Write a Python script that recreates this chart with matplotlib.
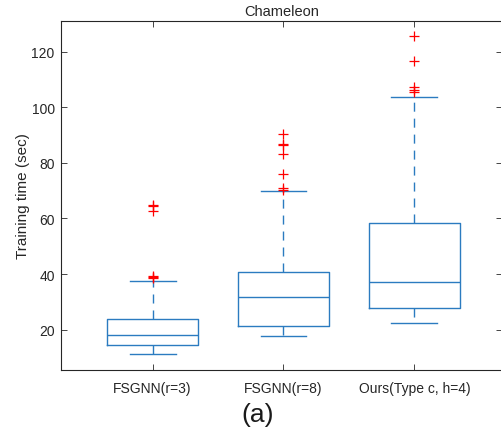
import matplotlib
matplotlib.use('Agg')
import matplotlib.pyplot as plt

plt.rcParams['font.family'] = ['Liberation Sans', 'DejaVu Sans']

# Box statistics per method (seconds)
labels = ['FSGNN(r=3)', 'FSGNN(r=8)', 'Ours(Type c, h=4)']
whisker_low = [11.3, 17.8, 22.5]
q1 = [14.5, 21.5, 27.9]
median = [18.2, 31.9, 37.2]
q3 = [23.9, 40.9, 58.3]
whisker_high = [37.4, 69.7, 103.5]
outliers = [
    [38.5, 38.8, 39.3, 62.6, 64.4, 64.8],
    [70.3, 70.9, 76.0, 83.3, 86.3, 86.8, 90.4],
    [105.5, 106.3, 107.2, 116.6, 125.6],
]

stats = []
for i, name in enumerate(labels):
    stats.append(dict(label=name, whislo=whisker_low[i], q1=q1[i], med=median[i],
                      q3=q3[i], whishi=whisker_high[i], fliers=outliers[i]))

blue = '#2b7bc0'
fig = plt.figure(figsize=(5.02, 4.35), dpi=100)
ax = fig.add_axes([61 / 502, 1 - 371 / 435, 441 / 502, 349 / 435])

ax.bxp(stats, positions=[1, 2, 3], widths=0.7, showfliers=True,
       boxprops=dict(color=blue, linewidth=1.0),
       medianprops=dict(color=blue, linewidth=1.0),
       whiskerprops=dict(color=blue, linewidth=1.0, linestyle=(0, (6.5, 5))),
       capprops=dict(color=blue, linewidth=1.0),
       capwidths=0.35,
       flierprops=dict(marker='+', markeredgecolor='red', markersize=7,
                       linestyle='none', markeredgewidth=0.9))

ax.set_xlim(0.30, 3.67)
ax.set_ylim(5.5, 131)
ax.set_yticks([20, 40, 60, 80, 100, 120])
ax.set_xticks([1, 2, 3])
ax.set_xticklabels(labels)

for s in ax.spines.values():
    s.set_color('#262626')
    s.set_linewidth(0.8)
ax.tick_params(direction='in', top=True, right=True, length=4, width=0.6,
               colors='#262626', labelsize=10, pad=4.5)
ax.tick_params(axis='x', pad=8)

ax.set_title('Chameleon', fontsize=10.5, color='#262626', pad=4)
ax.set_ylabel('Training time (sec)', fontsize=11, color='#262626', labelpad=1)
fig.text(0.513, 0.046, '(a)', fontsize=19, ha='center', va='center', color='#1a1a1a')

fig.savefig('out.png', dpi=100)
